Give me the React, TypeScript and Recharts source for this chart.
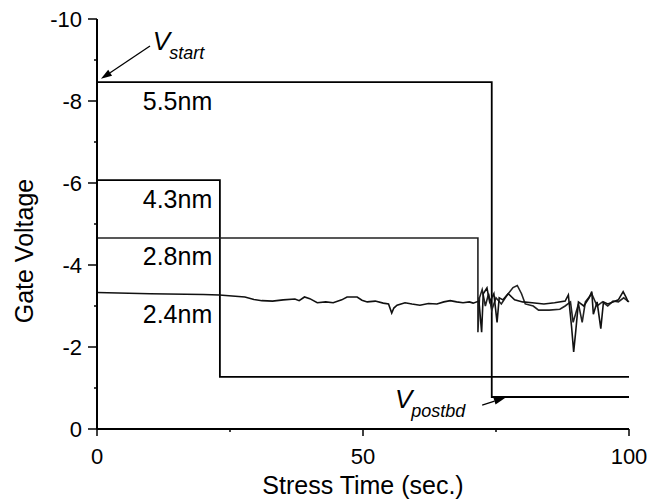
import { LineChart, Line, XAxis, YAxis, ReferenceDot, ReferenceLine } from "recharts";

const FONT = '"Liberation Sans", Arial, Helvetica, sans-serif';

// gate voltage traces as [stress time (s), gate voltage (V)]
const trace55: [number, number][] = [[0, -8.46], [74.2, -8.46], [74.2, -0.78], [100, -0.78]];
const trace43: [number, number][] = [[0, -6.07], [23.1, -6.07], [23.1, -1.27], [100, -1.27]];
const trace28: [number, number][] = [
  [0, -4.66], [71.6, -4.66], [71.6, -2.36], [71.9, -3.2], [72.4, -3.4], [73.0, -3.0],
  [73.6, -3.3], [74.2, -2.9], [75.0, -3.2], [76.0, -3.05], [77.0, -3.25], [78.2, -3.45],
  [79.0, -3.5], [79.8, -3.3], [80.5, -3.05], [82, -3.0], [83, -2.9], [85, -2.9], [87, -2.92],
  [88, -3.0], [89, -3.1], [89.5, -2.6], [90.5, -3.05], [91.2, -2.6], [91.8, -3.1], [93, -3.3],
  [94, -3.0], [95, -3.1], [96, -3.0], [97, -3.12], [98, -3.1], [99, -3.2], [100, -3.1],
];
const trace24: [number, number][] = [
  [0, -3.33], [10, -3.3], [20, -3.28], [23, -3.27], [27.8, -3.22], [29.5, -3.16], [31, -3.13],
  [33, -3.12], [35, -3.15], [37.2, -3.17], [38, -3.13], [39, -3.22], [40, -3.18], [41.4, -3.08],
  [43, -3.1], [44.4, -3.08], [46, -3.15], [47, -3.22], [48.9, -3.22], [49.8, -3.14], [50.8, -3.1],
  [52.3, -3.12], [53.8, -3.07], [54.8, -3.05], [55.4, -2.83], [55.8, -2.95], [56.4, -3.02],
  [57.9, -3.08], [59.2, -3.05], [60.7, -3.02], [62.3, -3.06], [63.9, -3.05], [65.2, -3.1],
  [66.4, -3.13], [67.6, -3.1], [68.8, -3.08], [70.0, -3.1], [70.7, -3.07], [71.8, -3.12],
  [72.3, -2.36], [72.6, -3.3], [73.3, -3.44], [73.8, -3.1], [74.6, -3.3], [75.2, -2.6],
  [75.6, -3.2], [76.3, -3.15], [77.3, -3.3], [78.5, -3.15], [80, -3.1], [81.8, -3.08],
  [84, -3.05], [86, -3.08], [88, -3.12], [88.6, -3.27], [89.2, -2.5], [89.6, -1.88], [90.0, -2.4],
  [90.5, -3.1], [91.5, -3.0], [92.5, -3.2], [93, -3.35], [93.3, -2.8], [94, -3.1], [94.7, -2.45],
  [95.2, -3.1], [96, -3.05], [97, -3.1], [98, -3.15], [98.9, -3.35], [99.5, -3.2], [99.8, -3.1],
];

const yTicks = [-10, -9, -8, -7, -6, -5, -4, -3, -2, -1, 0];
const yLabelTicks = [-10, -8, -6, -4, -2, 0];
const xTicks = [0, 25, 50, 75, 100];
const xLabelTicks = [0, 50, 100];

// oxide thickness labels: text, anchor time, anchor voltage
const thicknessNames = ["5.5nm", "4.3nm", "2.8nm", "2.4nm"];
const thicknessAnchorT = [8.6, 8.6, 8.6, 8.6];
const thicknessAnchorV = [-8.0, -5.61, -4.22, -2.8];

const toRows = (pts: [number, number][]) => pts.map(([t, v]) => ({ t, v }));

const YTick = ({ x, y, payload }: any) => {
  const axisX = x + 15;
  const major = yLabelTicks.includes(payload.value);
  return (
    <g>
      <line x1={axisX - (major ? 9 : 3)} x2={axisX} y1={y} y2={y} stroke="#000" strokeWidth={1.5} />
      {major && (
        <text x={x} y={y} dy={8} textAnchor="end" fontSize={22} fontFamily={FONT} fill="#000">
          {payload.value}
        </text>
      )}
    </g>
  );
};

const XTick = ({ x, y, payload }: any) => {
  const axisY = y - 16;
  const major = xLabelTicks.includes(payload.value);
  return (
    <g>
      <line x1={x} x2={x} y1={axisY} y2={axisY + (major ? 7 : 3)} stroke="#000" strokeWidth={1.5} />
      {major && (
        <text x={x} y={axisY + 35} textAnchor="middle" fontSize={22} fontFamily={FONT} fill="#000">
          {payload.value}
        </text>
      )}
    </g>
  );
};

const Arrow = ({ x1, y1, x2, y2 }: any) => {
  const a = Math.atan2(y2 - y1, x2 - x1);
  const len = 11;
  const w = 3.5;
  const bx = x2 - len * Math.cos(a);
  const by = y2 - len * Math.sin(a);
  const px = -Math.sin(a) * w;
  const py = Math.cos(a) * w;
  return (
    <g>
      <line x1={x1} y1={y1} x2={bx} y2={by} stroke="#000" strokeWidth={1.3} />
      <polygon points={`${x2},${y2} ${bx + px},${by + py} ${bx - px},${by - py}`} fill="#000" />
    </g>
  );
};

const subLabel = (main: string, sub: string) => (props: any) => {
  const vb = props.viewBox;
  return (
    <text x={vb.x} y={vb.y} dy={9} fontFamily={FONT} fill="#000" fontStyle="italic">
      <tspan fontSize={26}>{main}</tspan>
      <tspan fontSize={18} dx={-1} dy={9}>{sub}</tspan>
    </text>
  );
};

export default function App() {
  return (
    <div style={{ position: "absolute", left: 0, top: 0, background: "#fff" }}>
      <LineChart width={651} height={500} margin={{ top: 19, right: 22, bottom: 0, left: 0 }}>
        <XAxis
          type="number"
          dataKey="t"
          domain={[0, 100]}
          ticks={xTicks}
          height={71}
          tickSize={8}
          tickMargin={8}
          tickLine={false}
          tick={<XTick />}
          axisLine={{ stroke: "#000", strokeWidth: 2 }}
          label={{
            content: (p: any) => (
              <text
                x={p.viewBox.x + p.viewBox.width / 2}
                y={p.viewBox.y + 65}
                textAnchor="middle"
                fontSize={25}
                fontFamily={FONT}
                fill="#000"
              >
                Stress Time (sec.)
              </text>
            ),
          }}
        />
        <YAxis
          type="number"
          domain={[-10, 0]}
          reversed
          ticks={yTicks}
          width={97}
          tickSize={8}
          tickMargin={7}
          tickLine={false}
          tick={<YTick />}
          interval={0}
          axisLine={{ stroke: "#000", strokeWidth: 2 }}
          label={{
            content: (p: any) => {
              const cx = p.viewBox.x + 24;
              const cy = p.viewBox.y + p.viewBox.height / 2 + 27;
              return (
                <text
                  x={cx}
                  y={cy}
                  transform={`rotate(-90 ${cx} ${cy})`}
                  textAnchor="middle"
                  dominantBaseline="central"
                  fontSize={25}
                  fontFamily={FONT}
                  fill="#000"
                >
                  Gate Voltage
                </text>
              );
            },
          }}
        />
        <Line data={toRows(trace55)} dataKey="v" type="linear" stroke="#000" strokeWidth={1.8} dot={false} isAnimationActive={false} />
        <Line data={toRows(trace43)} dataKey="v" type="linear" stroke="#000" strokeWidth={1.8} dot={false} isAnimationActive={false} />
        <Line data={toRows(trace28)} dataKey="v" type="linear" stroke="#222" strokeWidth={1.6} dot={false} isAnimationActive={false} />
        <Line data={toRows(trace24)} dataKey="v" type="linear" stroke="#111" strokeWidth={1.6} dot={false} isAnimationActive={false} />
        {thicknessNames.map((name, i) => (
          <ReferenceDot
            key={name}
            x={thicknessAnchorT[i]}
            y={thicknessAnchorV[i]}
            r={0}
            fill="none"
            stroke="none"
            label={{ value: name, position: "right", offset: 0, fontSize: 25, fontFamily: FONT, fill: "#000" }}
          />
        ))}
        <ReferenceDot x={10.5} y={-9.46} r={0} fill="none" stroke="none" label={{ content: subLabel("V", "start") }} />
        <ReferenceDot x={56.0} y={-0.73} r={0} fill="none" stroke="none" label={{ content: subLabel("V", "postbd") }} />
        <ReferenceLine segment={[{ x: 9.96, y: -9.34 }, { x: 0.75, y: -8.54 }]} shape={<Arrow />} />
        <ReferenceLine segment={[{ x: 72.4, y: -0.585 }, { x: 76.7, y: -0.756 }]} shape={<Arrow />} />
      </LineChart>
    </div>
  );
}
